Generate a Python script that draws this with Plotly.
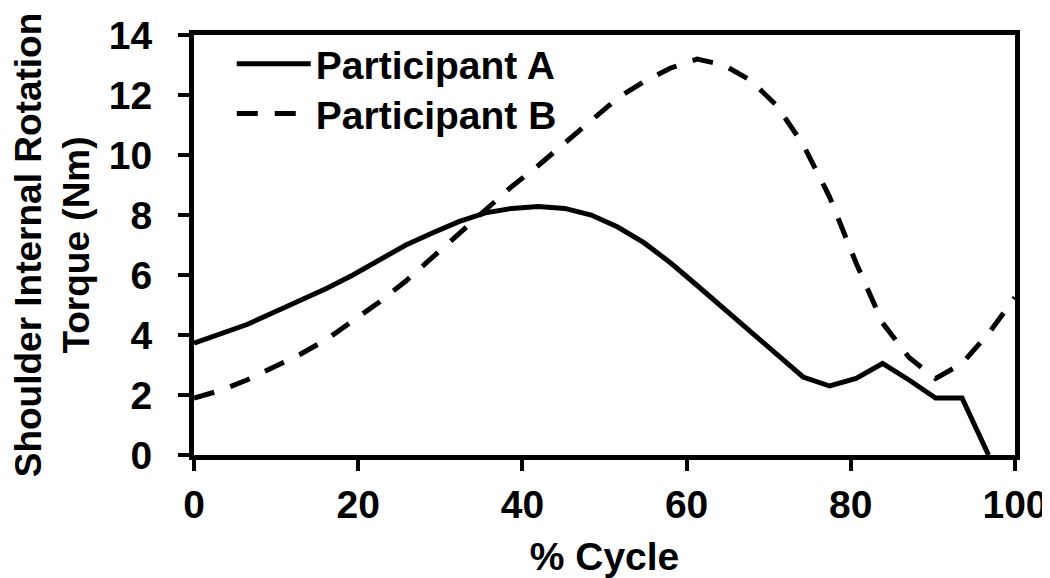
import plotly.graph_objects as go

cycle = [i * 100 / 31 for i in range(32)]
participant_a = [3.73, 4.05, 4.35, 4.75, 5.15, 5.55, 6.0, 6.5, 7.0, 7.4, 7.78, 8.07,
                 8.22, 8.28, 8.22, 8.0, 7.6, 7.07, 6.4, 5.65, 4.9, 4.15, 3.35, 2.6,
                 2.3, 2.55, 3.05, 2.5, 1.9, 1.9, 0.0]
participant_b = [1.9, 2.15, 2.5, 2.93, 3.35, 3.85, 4.45, 5.1, 5.8, 6.6, 7.4, 8.2,
                 8.95, 9.65, 10.4, 11.2, 11.9, 12.45, 12.9, 13.2, 13.0, 12.5, 11.65, 10.35,
                 8.6, 6.4, 4.4, 3.25, 2.55, 3.05, 4.05, 5.25]
x_ticks = [0, 20, 40, 60, 80, 100]
y_ticks = [0, 2, 4, 6, 8, 10, 12, 14]

FONT = "Liberation Sans, Arial, sans-serif"
TICK_FS = 39
LEG_FS = 39

fig = go.Figure()
fig.add_trace(go.Scatter(x=cycle[:len(participant_a)], y=participant_a, mode="lines",
                         name="Participant A", legend="legend", showlegend=True,
                         line=dict(color="black", width=5)))
fig.add_trace(go.Scatter(x=cycle, y=participant_b, mode="lines",
                         name="Participant B", legend="legend2", showlegend=True,
                         line=dict(color="black", width=5, dash="21px,17px")))

axis_common = dict(showgrid=False, zeroline=False, showline=True, linecolor="black",
                   linewidth=5, mirror=True, ticks="outside", ticklen=11, tickwidth=4,
                   tickcolor="black", automargin=False,
                   tickfont=dict(family=FONT, size=TICK_FS, color="black", weight="bold"))

fig.update_xaxes(range=[0, 100], tickvals=x_ticks, ticklabelstandoff=0,
                 title=dict(text="% Cycle", font=dict(family=FONT, size=39, color="black", weight="bold"),
                            standoff=19),
                 **axis_common)
fig.update_yaxes(range=[0, 14], tickvals=y_ticks, ticklabelstandoff=18,
                 title=dict(text="Shoulder Internal Rotation<br>Torque (Nm)",
                            font=dict(family=FONT, size=37, color="black", weight="bold"),
                            standoff=14),
                 **axis_common)

leg_common = dict(x=0.046, xanchor="left", yanchor="middle", bgcolor="rgba(0,0,0,0)",
                  itemwidth=74, borderwidth=0,
                  font=dict(family=FONT, size=LEG_FS, color="black", weight="bold"))

fig.update_layout(
    width=1050, height=578,
    margin=dict(l=186, r=43, t=27, b=131, autoexpand=False),
    paper_bgcolor="white", plot_bgcolor="white",
    showlegend=True,
    legend=dict(y=0.931, **leg_common),
    legend2=dict(y=0.813, **leg_common),
)

fig.write_html("out.html")
